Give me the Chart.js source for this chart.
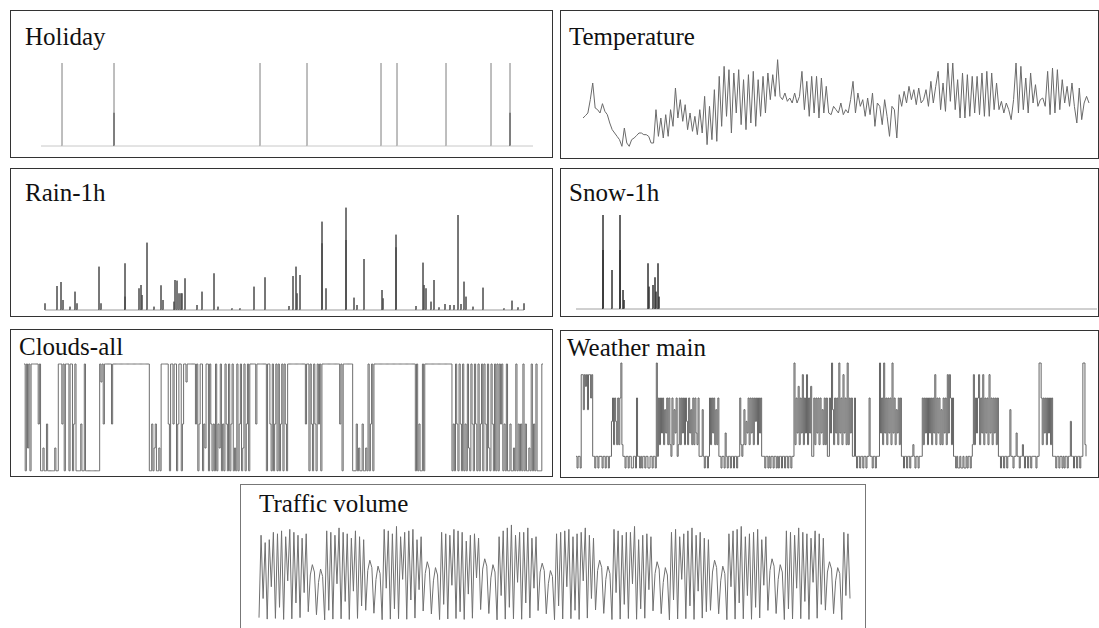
<!DOCTYPE html>
<html><head><meta charset="utf-8">
<script src="https://cdn.jsdelivr.net/npm/chart.js@4.4.1/dist/chart.umd.min.js"></script>
<style>
html,body{margin:0;padding:0;background:#fff;width:1099px;height:628px;overflow:hidden;position:relative}
.box{position:absolute;border:1px solid #333;box-sizing:border-box}
.title{position:absolute;font-family:"Liberation Serif","Times New Roman",serif;font-size:25px;line-height:25px;color:#111;white-space:nowrap}
canvas{position:absolute}
</style></head><body>
<div class="box" style="left:10px;top:10px;width:543px;height:148px"></div>
<div class="box" style="left:560px;top:10px;width:539px;height:149px"></div>
<div class="box" style="left:10px;top:168px;width:543px;height:149px"></div>
<div class="box" style="left:560px;top:168px;width:539px;height:149px"></div>
<div class="box" style="left:10px;top:329px;width:543px;height:148px"></div>
<div class="box" style="left:560px;top:330px;width:539px;height:148px"></div>
<div class="box" style="left:240px;top:484px;width:626px;height:160px;border-color:#777"></div>
<div class="title" style="left:25px;top:24px">Holiday</div>
<div class="title" style="left:569px;top:24px">Temperature</div>
<div class="title" style="left:25px;top:180px">Rain-1h</div>
<div class="title" style="left:569px;top:180px">Snow-1h</div>
<div class="title" style="left:19px;top:334px">Clouds-all</div>
<div class="title" style="left:567px;top:335px">Weather main</div>
<div class="title" style="left:259px;top:491px">Traffic volume</div>
<script>
// ---------------- DATA ----------------
const holidaySpan = [0, 492];
const holidayDays = [21, 73, 73, 219, 266, 340, 356, 405, 450, 469, 469];
const holidayLevel = [1, 1, 0.4, 1, 1, 1, 1, 1, 1, 1, 0.4];

const temperature = [
  10.5, 11.2, 12, 16, 21, 13.5, 13, 12, 14.8, 12.5, 11.5, 9, 7, 6, 5, 4, 2, 7.5, 3, 2, 4, 4.5, 5.2, 6, 6, 5.5, 5.5, 5, 3,
  3, 13, 5, 10.5, 4.5, 11.5, 5, 13, 8, 19.5, 10.5, 16, 9.5, 14.5, 7, 12, 6.5, 11, 5.5, 13, 6, 17, 2.5, 14, 4, 19,
  3.5, 23, 8, 26, 11, 25, 6, 24, 12, 25, 8.5, 22, 7, 23.5, 9, 24.5, 8, 22, 11, 23, 12, 24, 16, 23.5, 17, 28,
  17, 16, 18, 15.5, 16.5, 15, 18, 15, 17,
  24.5, 13, 21.5, 11, 23, 12, 23, 10.5, 22.5, 12, 20,
  12, 11.5, 14, 13, 12, 15, 11.5, 13, 12, 16,
  21.5, 12, 18, 14, 16, 11, 16.5, 11.5, 18, 8, 15, 14, 8.5, 16, 11, 5, 14, 13, 4.5, 17.5, 14,
  18.5, 15, 20, 16, 19, 14.5, 19.5, 15, 16, 19, 14, 21.5, 15, 20,
  24.5, 13, 21, 12.5, 27, 15.5, 27, 13, 22, 10.5, 24, 10.5, 23.5, 11, 23, 12, 23, 11.5, 24, 11, 24.5, 11, 24, 13, 21, 13,
  15.5, 12, 15, 13, 10, 16, 27,
  12, 26, 13, 22.5, 12, 24, 15, 20.5, 14, 16, 16.5, 14, 24.5, 11.5, 25.5, 12, 25, 13, 22, 15, 20, 14, 21, 14, 9, 19.5, 10, 15, 17, 15];

const rainSpan = [0, 479];
const rainHour = [0, 12, 16, 18, 25, 30, 32, 54, 56, 80, 80, 94, 96, 97, 102, 109, 116, 118, 129, 130,
  132, 134, 136, 137, 140, 152, 157, 169, 173, 187, 195, 209, 220, 244, 248, 251, 252, 255, 277, 277,
  281, 301, 301, 309, 312, 319, 337, 338, 351, 351, 371, 378, 379, 381, 386, 389, 394, 400, 405, 409,
  413, 416, 419, 421, 428, 438, 459, 467, 473, 479];
const rainMm = [2.0, 7.2, 8.4, 3.0, 1.0, 5.5, 2.0, 13.0, 2.0, 14.0, 4.0, 6.5, 7.5, 4.5, 20.2, 1.0, 7.4, 3.0, 2.5, 9.0,
  8.8, 5.0, 5.0, 5.0, 9.5, 1.5, 5.5, 11.0, 1.0, 0.5, 0.5, 7.0, 9.8, 1.2, 10.2, 13.0, 5.0, 10.5, 26.5, 20.0,
  6.5, 30.7, 21.0, 3.7, 1.5, 15.3, 6.0, 3.5, 22.6, 18.8, 1.2, 14.2, 7.5, 6.5, 2.5, 9.0, 0.8, 1.8, 1.5, 1.5,
  28.5, 1.8, 8.5, 4.0, 1.0, 6.7, 0.5, 2.8, 0.8, 2.0];

const snowSpan = [0, 521];
const snowHour = [27, 27, 36, 44, 44, 47, 48, 72, 73, 77, 79, 80, 82, 83];
const snowMm = [28.2, 17.7, 11.7, 28.2, 17.7, 5.7, 2.7, 13.7, 6.7, 7.2, 9.5, 5.2, 13.7, 3.7];

const cloudsAll = [
  90,1,90,20,90,1,90,90,90,90, 90,90,40,90,1,1,20,1,1,40,
  1,1,1,1,1,1,20,1,1,90, 90,90,40,90,1,90,90,90,1,90,
  90,1,40,90,1,1,1,1,40,1, 1,90,1,1,1,1,1,1,1,1,
  1,1,1,1,90,75,90,40,90,90, 90,90,90,90,40,90,90,90,90,90,
  90,90,90,90,90,90,90,90,90,90, 90,90,90,90,90,90,90,90,90,90,
  90,90,90,90,90,90,1,1,40,1, 20,40,1,1,20,1,90,90,90,90,
  90,90,40,1,90,90,40,90,90,1, 40,90,90,1,40,90,90,75,90,90,
  90,90,90,90,90,40,90,1,40,90, 90,1,40,20,90,90,1,90,40,1,
  40,1,90,1,40,20,90,1,40,1, 90,40,1,90,1,40,90,1,20,1,
  90,1,40,90,1,20,90,1,40,90, 1,90,90,90,90,90,40,90,90,90,
  90,90,90,90,90,1,90,90,40,1, 90,1,40,90,1,90,1,40,90,1,
  90,40,1,90,90,90,90,90,90,90, 90,90,90,90,90,90,90,90,40,90,
  90,1,90,40,1,90,40,1,90,40, 90,1,90,90,90,90,90,90,90,90,
  90,90,90,90,90,90,90,40,90,1, 90,90,90,90,90,90,90,90,1,1,
  1,40,1,20,1,1,40,1,1,20, 1,90,1,40,90,1,90,90,90,90,
  90,90,90,90,90,90,90,90,90,90, 90,90,90,90,90,90,90,90,90,90,
  90,90,90,90,90,90,90,90,90,90, 90,1,90,1,40,1,1,90,1,90,
  90,90,90,90,90,90,90,90,90,90, 90,90,90,90,90,90,90,90,90,90,
  90,90,1,40,1,90,40,1,90,40, 1,90,1,40,1,90,20,1,90,40,
  1,90,40,1,90,1,40,90,1,90, 40,1,90,20,1,90,40,1,90,1,
  90,1,90,40,90,1,40,1,90,1, 1,40,1,1,20,1,90,1,40,1,
  40,1,90,1,40,1,1,20,1,90, 1,40,1,90,1,1,1,1,90,90];

const weatherMain = [
  1,0,1,1,0,8,8,5,8,7, 8,5,8,8,6,8,1,1,0,1,
  1,0,1,1,1,0,1,1,0,1, 1,0,1,1,4,6,2,6,4,2,
  6,2,6,9,2,1,1,0,1,1, 0,1,1,0,0,1,1,0,6,1,
  1,0,1,0,1,1,0,1,1,0, 0,1,1,0,1,1,0,9,1,6,
  2,6,3,6,2,5,3,6,2,6, 2,1,6,2,5,3,6,1,2,6,
  2,6,3,6,2,6,4,2,6,3, 5,2,6,2,6,3,2,6,1,1,
  1,5,1,0,1,1,0,1,6,2, 6,3,6,2,5,2,6,1,1,0,
  1,1,0,3,1,0,1,1,0,1, 1,0,1,1,0,1,1,6,2,1,
  2,5,2,4,3,6,2,6,3,6, 2,6,4,6,2,6,3,6,1,1,
  1,0,1,1,0,1,0,1,1,0, 1,1,0,1,0,1,1,0,1,1,
  0,1,1,0,1,1,0,1,1,9, 2,6,3,7,2,6,3,8,2,6,
  3,8,2,6,3,7,1,1,6,2, 6,3,6,2,6,3,5,2,6,2,
  6,1,1,6,3,9,5,2,6,3, 6,2,9,3,6,2,8,3,6,2,
  9,2,6,3,6,1,1,6,1,0, 1,1,0,1,1,0,1,1,0,1,
  1,6,1,1,0,1,1,0,1,1, 1,9,3,6,2,9,3,6,2,6,
  3,6,2,9,3,6,2,5,3,6, 2,6,1,1,0,1,1,0,1,1,
  0,1,1,2,1,0,1,1,0,1, 1,1,6,2,6,3,6,2,6,3,
  6,2,6,3,8,2,6,3,6,2, 5,2,6,3,6,2,8,3,8,6,
  2,6,1,1,0,1,0,0,1,0, 0,1,0,0,1,0,1,1,0,1,
  2,8,2,6,3,6,8,2,6,3, 8,2,6,3,6,2,8,3,6,2,
  6,3,6,2,6,1,1,0,1,1, 0,1,1,0,1,1,5,1,1,0,
  1,1,3,1,1,0,1,1,2,1, 0,1,1,0,1,1,0,1,1,1,
  1,0,1,1,9,9,6,2,6,3, 6,2,6,3,6,2,6,1,1,1,
  0,1,1,0,1,1,0,1,0,1, 1,0,1,1,4,1,1,0,1,1,
  0,1,1,0,1,1,9,9,2,1];

const trafficVolume = [
  500,6100,1800,5600, 400,5800,2600,6300, 450,6200,1200,6400, 380,6000,3000,6500, 420,6300,1500,6100, 500,5900,2200,6200, 900,3400,4100,3600, 700,2900,3800,3300,
  350,6400,1000,6300, 400,6100,2800,6600, 420,6300,1600,6200, 380,5900,2300,6400, 450,6000,1300,5800, 1000,3700,4400,3900, 800,3100,4000,3500,
  360,6500,2500,6400, 400,6200,1100,6700, 430,6000,3100,6300, 390,6400,1700,6500, 470,5800,2400,6000, 950,3500,4300,3800, 750,3000,3900,3400,
  370,6300,1400,6200, 410,6100,2700,6500, 440,6400,900,6300, 380,5700,2100,6100, 460,6200,3200,5900, 1050,3800,4500,4000, 780,3200,4100,3600,
  350,6000,2000,6400, 400,6600,1200,6800, 420,6100,2900,6300, 390,6300,1500,6600, 480,5900,2500,6000, 980,3600,4200,3700, 760,2800,3700,3300,
  360,6200,1300,6300, 410,6400,2600,6500, 430,6000,1000,6200, 380,6300,3000,6600, 470,6100,1800,5900, 1020,3700,4400,3900, 790,3100,4000,3500,
  370,6500,2200,6400, 400,6100,1400,6300, 440,6300,2800,6700, 390,5800,1100,6100, 460,6200,2400,6000, 960,3500,4300,3800, 770,2900,3900,3400,
  350,6300,1700,6500, 410,6000,3100,6200, 430,6400,1300,6600, 380,6100,2300,6300, 470,5900,900,5800, 1000,3600,4400,3900, 760,3000,4000,3500,
  360,6200,2600,6400, 400,6500,1500,6700, 420,6000,2000,6200, 390,6300,1200,6500, 480,5800,2700,6000, 990,3700,4500,4000, 780,3100,4100,3600,
  370,6400,1100,6300, 410,6100,2500,6600, 430,6300,1600,6200, 380,5900,2900,6400, 460,6200,1400,5900, 1010,3600,4300,3800, 770,3000,3900,3500,
  360,6300,2000,6200, 1800];

// ---------------- BUILDERS ----------------
function spikeSeries(times, values, span) {
  const pts = [{x: span[0], y: 0}];
  for (let i = 0; i < times.length; i++) {
    pts.push({x: times[i], y: 0}, {x: times[i], y: values[i]}, {x: times[i], y: 0});
  }
  pts.push({x: span[1], y: 0});
  return pts;
}
function idx(arr) { return arr.map((_, i) => i); }

function addChart(plot, data, xOpt, yOpt) {
  const pad = 4;
  const cv = document.createElement('canvas');
  cv.width = plot.w + 2 * pad; cv.height = plot.h + 2 * pad;
  cv.style.left = (plot.x - pad) + 'px'; cv.style.top = (plot.y - pad) + 'px';
  cv.style.width = cv.width + 'px'; cv.style.height = cv.height + 'px';
  document.body.appendChild(cv);
  return new Chart(cv, {
    type: 'line',
    data: data,
    options: {
      responsive: false, animation: false, devicePixelRatio: 1,
      layout: {padding: pad},
      plugins: {legend: {display: false}, tooltip: {enabled: false}, title: {display: false}},
      elements: {point: {radius: 0}, line: {tension: 0, borderWidth: 1}},
      scales: {
        x: Object.assign({display: false}, xOpt),
        y: Object.assign({display: false}, yOpt)
      }
    }
  });
}
function spikeDataset(pts, spikeColor, baseColor, lowLimit, lowColor) {
  return {data: pts, borderColor: spikeColor, borderWidth: 1, clip: false,
    segment: {borderColor: c => {
      const a = c.p0.parsed.y, b = c.p1.parsed.y;
      if (a === 0 && b === 0) return baseColor;
      if (lowLimit && Math.max(a, b) <= lowLimit) return lowColor;
      return spikeColor;
    }}};
}

// Holiday
addChart({x: 41, y: 63, w: 492, h: 83},
  {datasets: [spikeDataset(spikeSeries(holidayDays, holidayLevel, holidaySpan), '#a8a8a8', '#c8c8c8', 0.45, '#6a6a6a')]},
  {type: 'linear', min: holidaySpan[0], max: holidaySpan[1]}, {min: 0, max: 1});

// Temperature
addChart({x: 583, y: 53, w: 506, h: 100},
  {labels: idx(temperature), datasets: [{data: temperature, borderColor: '#6a6a6a', borderWidth: 1, clip: false}]},
  {type: 'category'}, {min: 0, max: 30});

// Rain
addChart({x: 45, y: 210, w: 479, h: 100},
  {datasets: [spikeDataset(spikeSeries(rainHour, rainMm, rainSpan), '#4a4a4a', '#9a9a9a')]},
  {type: 'linear', min: rainSpan[0], max: rainSpan[1]}, {min: 0, max: 30});

// Snow
addChart({x: 576, y: 209, w: 521, h: 100},
  {datasets: [spikeDataset(spikeSeries(snowHour, snowMm, snowSpan), '#333333', '#a0a0a0')]},
  {type: 'linear', min: snowSpan[0], max: snowSpan[1]}, {min: 0, max: 30});

// Clouds
addChart({x: 24, y: 364, w: 519, h: 108},
  {labels: idx(cloudsAll), datasets: [{data: cloudsAll, borderColor: '#6e6e6e', borderWidth: 1, stepped: true, clip: false}]},
  {type: 'category'}, {min: 0, max: 90});

// Weather main
addChart({x: 576, y: 363, w: 510, h: 105},
  {labels: idx(weatherMain), datasets: [{data: weatherMain, borderColor: '#666666', borderWidth: 1, stepped: true, clip: false}]},
  {type: 'category'}, {min: 0, max: 9});

// Traffic volume
addChart({x: 259, y: 522, w: 591, h: 103},
  {labels: idx(trafficVolume), datasets: [{data: trafficVolume, borderColor: '#707070', borderWidth: 1, clip: false}]},
  {type: 'category'}, {min: 0, max: 7000});
</script>
</body></html>
